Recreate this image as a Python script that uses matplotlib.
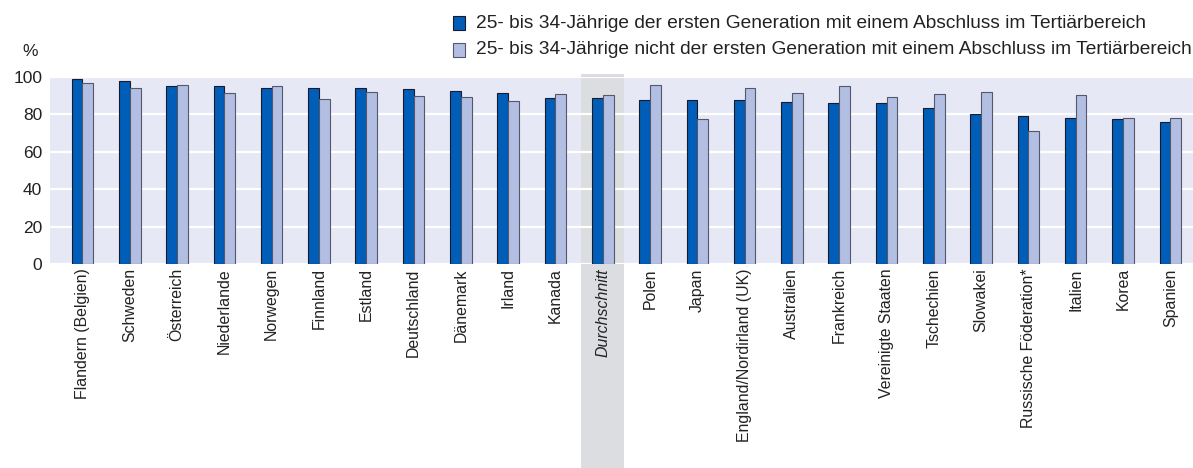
import matplotlib
matplotlib.use("Agg")
import matplotlib.pyplot as plt
import matplotlib.transforms as mtransforms
from matplotlib.patches import Rectangle
import numpy as np

categories = ["Flandern (Belgien)", "Schweden", "Österreich", "Niederlande", "Norwegen",
              "Finnland", "Estland", "Deutschland", "Dänemark", "Irland", "Kanada",
              "Durchschnitt", "Polen", "Japan", "England/Nordirland (UK)", "Australien",
              "Frankreich", "Vereinigte Staaten", "Tschechien", "Slowakei",
              "Russische Föderation*", "Italien", "Korea", "Spanien"]
first_gen = [98.8, 97.7, 95.2, 94.9, 94.0, 93.8, 93.8, 93.2, 92.4, 91.3, 88.6,
             88.4, 87.6, 87.4, 87.4, 86.7, 86.1, 86.1, 83.5, 79.9, 79.0, 77.9, 77.2, 75.6]
not_first_gen = [96.6, 93.8, 95.6, 91.1, 94.9, 87.9, 91.8, 89.5, 89.2, 86.8, 91.0,
                 90.4, 95.4, 77.4, 93.8, 91.1, 95.0, 89.2, 90.8, 91.6, 71.0, 90.4, 77.9, 78.1]
legend_labels = ["25- bis 34-Jährige der ersten Generation mit einem Abschluss im Tertiärbereich",
                 "25- bis 34-Jährige nicht der ersten Generation mit einem Abschluss im Tertiärbereich"]
y_ticks = [0, 20, 40, 60, 80, 100]
average_label = "Durchschnitt"

W, H = 1193, 468
fig = plt.figure(figsize=(W / 100, H / 100), dpi=100)
ax = fig.add_axes([50 / W, 1 - 264 / H, (W - 50) / W, (264 - 76.7) / H])

dark = "#005EB8"
light = "#B3BEE3"
bg = "#E6E8F5"
band = "#DCDDE0"

ax.set_facecolor(bg)
x = np.arange(len(categories))
bw = 0.228
ax.bar(x - bw / 2, first_gen, width=bw, color=dark, edgecolor="#1A1A2A", linewidth=0.8, zorder=2)
ax.bar(x + bw / 2, not_first_gen, width=bw, color=light, edgecolor="#55586A", linewidth=0.8, zorder=2)

ax.set_xlim(-0.687, 23.48)
ax.set_ylim(0, 100)
ax.set_yticks(y_ticks)
ax.set_axisbelow(True)
ax.yaxis.grid(True, color="white", linewidth=1.6, zorder=0.5)
for s in ax.spines.values():
    s.set_visible(False)
ax.tick_params(axis="both", length=0)
ax.tick_params(axis="y", pad=5.5, labelsize=12.5, labelcolor="#222222")
ax.tick_params(axis="x", pad=3, labelsize=11.4, labelcolor="#222222")
for lab in ax.get_yticklabels():
    lab.set_fontfamily("Liberation Sans")

ax.set_xticks(x)
ax.set_xticklabels(categories, rotation=90, fontfamily="Liberation Sans", va="top", ha="center")
avg_idx = categories.index(average_label)
ax.get_xticklabels()[avg_idx].set_fontstyle("italic")

# grey band behind the average
trans = mtransforms.blended_transform_factory(ax.transData, ax.transAxes)
ax.add_patch(Rectangle((avg_idx - 0.455, -1.2), 0.91, 1.2 + 1.012, transform=trans,
                       facecolor=band, edgecolor="none", clip_on=False, zorder=0.1))

# % label
fig.text(22 / W, 1 - 52 / H, "%", fontsize=12.5, fontfamily="Liberation Sans",
         color="#222222", ha="left", va="center")

# legend
for i, (lab, col, ec) in enumerate(zip(legend_labels, [dark, light], ["#1A1A2A", "#55586A"])):
    yc = [23, 50][i]
    fig.patches.append(Rectangle((453 / W, 1 - (yc + 6.5) / H), 12 / W, 13 / H,
                                 transform=fig.transFigure, facecolor=col, edgecolor=ec,
                                 linewidth=0.8))
    fig.text(476 / W, 1 - yc / H, lab, fontsize=13.8, fontfamily="Liberation Sans",
             color="#222222", ha="left", va="center")

fig.savefig("out.png", dpi=100)
